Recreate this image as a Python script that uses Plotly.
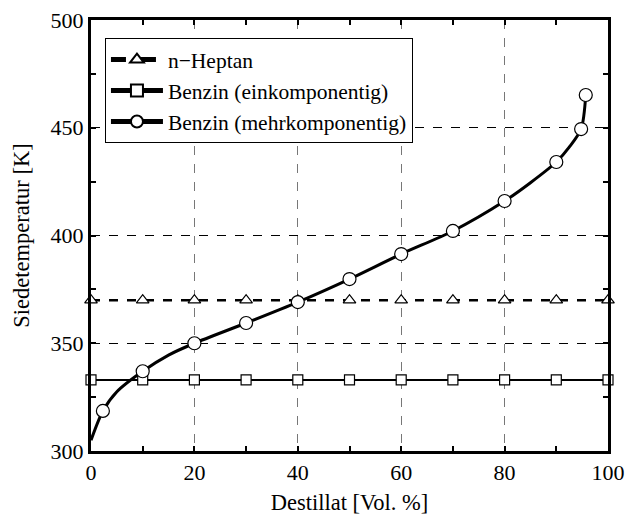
import plotly.graph_objects as go

# Destillat [Vol. %] and Siedetemperatur [K]
heptan_x = [0, 10, 20, 30, 40, 50, 60, 70, 80, 90, 100]
heptan_y = [370] * 11

ein_x = [0, 10, 20, 30, 40, 50, 60, 70, 80, 90, 100]
ein_y = [333] * 11

mehr_x = [0, 2.3, 5, 10, 15, 20, 30, 40, 50, 60, 70, 80, 85, 90, 92.5, 94.8, 95.7]
mehr_y = [305, 318.6, 327.5, 337, 344.5, 350, 359.4, 369.1, 379.8, 391.4, 402.1,
          416, 424.5, 434.1, 441, 449.4, 465.2]
mehr_marked = [0, 1, 0, 1, 0, 1, 1, 1, 1, 1, 1, 1, 0, 1, 0, 1, 1]

FONT = "Liberation Serif, Times New Roman, serif"

fig = go.Figure()

fig.add_trace(go.Scatter(
    x=heptan_x, y=heptan_y, mode="lines+markers", name="n\u2212Heptan",
    line=dict(color="black", width=2.5, dash="dash"),
    marker=dict(symbol="triangle-up", size=11, color="white", opacity=1,
                line=dict(width=1.2, color="black")),
    cliponaxis=False,
))
fig.add_trace(go.Scatter(
    x=ein_x, y=ein_y, mode="lines+markers", name="Benzin (einkomponentig)",
    line=dict(color="black", width=2),
    marker=dict(symbol="square", size=10, color="white", opacity=1,
                line=dict(width=1.2, color="black")),
    cliponaxis=False,
))
fig.add_trace(go.Scatter(
    x=mehr_x, y=mehr_y, mode="lines+markers", name="Benzin (mehrkomponentig)",
    line=dict(color="black", width=3, shape="spline", smoothing=0.8),
    marker=dict(symbol="circle", size=[13 if m else 0 for m in mehr_marked],
                color="white", opacity=1, line=dict(width=1.2, color="black")),
    cliponaxis=False,
))

axis_common = dict(
    showline=True, linecolor="black", linewidth=3, mirror="allticks",
    ticks="inside", ticklen=5, tickwidth=2, tickcolor="black",
    showgrid=True, griddash="dash", gridwidth=1, zeroline=False,
    automargin=False,
    tickfont=dict(family=FONT, size=22, color="black"),
)

fig.update_xaxes(
    range=[0, 100], dtick=20, tick0=0, gridcolor="#777777",
    minor=dict(dtick=10, ticks="inside", ticklen=5, tickwidth=2,
               tickcolor="black", showgrid=False),
    title=dict(text="Destillat [Vol. %]", font=dict(family=FONT, size=22.5, color="black"),
               standoff=11),
    **axis_common,
)
fig.update_yaxes(
    range=[300, 500], dtick=50, tick0=300, gridcolor="black",
    minor=dict(dtick=25, ticks="inside", ticklen=5, tickwidth=2,
               tickcolor="black", showgrid=False),
    title=dict(text="Siedetemperatur [K]", font=dict(family=FONT, size=22.5, color="black"),
               standoff=15),
    **axis_common,
)

fig.update_layout(
    width=626, height=515,
    margin=dict(l=91, r=18, t=20, b=64),
    paper_bgcolor="white", plot_bgcolor="white",
    font=dict(family=FONT, color="black"),
    showlegend=True,
    legend=dict(
        x=0.027, y=0.958, xanchor="left", yanchor="top",
        bgcolor="white", bordercolor="black", borderwidth=1,
        font=dict(family=FONT, size=21.5, color="black"),
        itemsizing="constant", itemwidth=52, tracegroupgap=0,
    ),
)

fig.write_html("out.html")
